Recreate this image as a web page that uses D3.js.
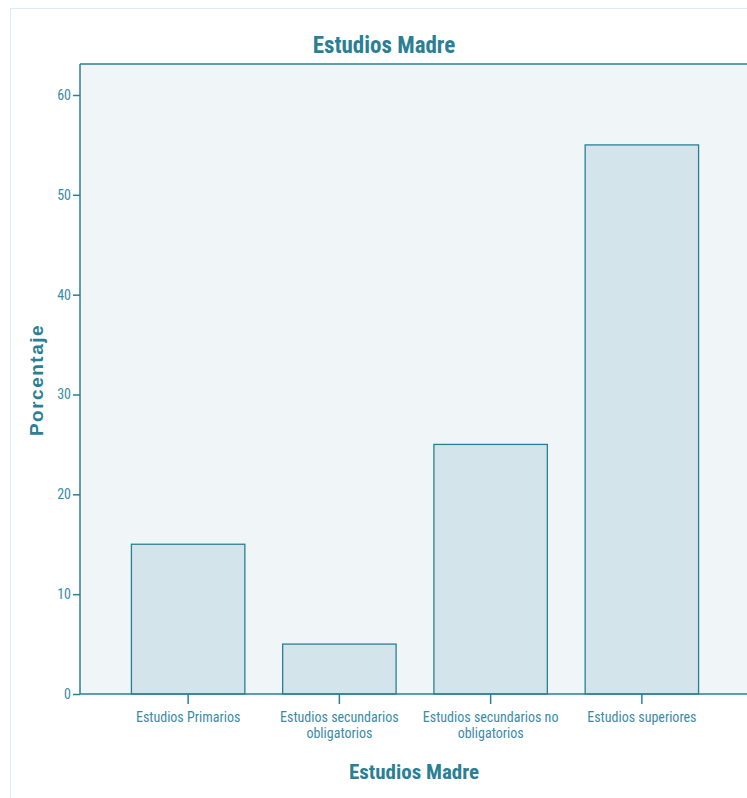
<!DOCTYPE html>
<html><head><meta charset="utf-8">
<script src="https://cdn.jsdelivr.net/npm/d3@7"></script>
<style>body{margin:0;background:#fff;} svg{display:block;}</style>
</head><body>
<script>
const categories = ["Estudios Primarios", "Estudios secundarios obligatorios", "Estudios secundarios no obligatorios", "Estudios superiores"];
const catLines = [["Estudios Primarios"], ["Estudios secundarios", "obligatorios"], ["Estudios secundarios no", "obligatorios"], ["Estudios superiores"]];
const values = [15, 5, 25, 55];
const yTicks = [0, 10, 20, 30, 40, 50, 60];
const title = "Estudios Madre";
const xTitle = "Estudios Madre";
const yTitle = "Porcentaje";

const W = 747, H = 798;
const teal = "#2b7f95", text = "#3a8ca5";
const narrow = "'Liberation Sans Narrow', 'Roboto Condensed', 'Arial Narrow', sans-serif";
const svg = d3.select("body").append("svg").attr("width", W).attr("height", H);

// outer frame
svg.append("rect").attr("x", 10.5).attr("y", 8.5).attr("width", 760).attr("height", 800)
  .attr("fill", "#fff").attr("stroke", "#dcecef");

const L = 80, T = 64, B = 694, R = 750;
const y = d3.scaleLinear().domain([0, 60]).range([B, 95]);
const x = d3.scaleBand().domain(categories).range([L, R]).paddingInner(0.25).paddingOuter(0.34);

svg.append("rect").attr("x", L).attr("y", T).attr("width", 800).attr("height", B - T)
  .attr("fill", "#f0f5f8");
svg.append("line").attr("x1", L).attr("x2", W).attr("y1", T).attr("y2", T).attr("stroke", teal).attr("stroke-width", 1.5);

svg.selectAll("rect.bar").data(values).join("rect").attr("class", "bar")
  .attr("x", (d, i) => x(categories[i]))
  .attr("y", d => y(d))
  .attr("width", x.bandwidth())
  .attr("height", d => B - y(d))
  .attr("fill", "#d3e4ea").attr("stroke", teal).attr("stroke-width", 1.3);

// y axis
const ya = svg.append("g").attr("transform", `translate(${L},0)`)
  .call(d3.axisLeft(y).tickValues(yTicks).tickSize(7).tickPadding(2));
ya.select(".domain").attr("d", `M0,${T}V${B}`).attr("stroke", teal).attr("stroke-width", 1.5);
ya.selectAll(".tick line").attr("stroke", teal).attr("stroke-width", 1.5);
ya.selectAll(".tick text").attr("fill", text).style("font-family", narrow).style("font-size", "14px");

// x axis
const xa = svg.append("g").attr("transform", `translate(0,${B})`)
  .call(d3.axisBottom(x).tickSize(10).tickPadding(4).tickFormat(""));
xa.select(".domain").attr("d", `M${L},0H${W}`).attr("stroke", teal).attr("stroke-width", 1.5);
xa.selectAll(".tick line").attr("stroke", teal).attr("stroke-width", 1.5);
xa.selectAll(".tick").each(function(d, i) {
  const t = d3.select(this).append("text").attr("fill", text).attr("text-anchor", "middle")
    .style("font-family", narrow).style("font-size", "14px");
  catLines[i].forEach((ln, j) => t.append("tspan").attr("x", 0).attr("y", 28 + j * 16).text(ln));
});

svg.append("text").attr("x", 384).attr("y", 53).attr("text-anchor", "middle").attr("fill", teal)
  .style("font-family", narrow).style("font-size", "23px").style("font-weight", "bold").text(title);
svg.append("text").attr("x", 414).attr("y", 779).attr("text-anchor", "middle").attr("fill", teal)
  .style("font-family", narrow).style("font-size", "21px").style("font-weight", "bold").text(xTitle);
svg.append("text").attr("transform", "translate(43,380) rotate(-90)").attr("text-anchor", "middle").attr("fill", teal)
  .style("font-family", "'Liberation Sans', Arial, sans-serif").style("font-size", "19px").style("font-weight", "bold")
  .style("letter-spacing", "1.5px").text(yTitle);
</script>
</body></html>
